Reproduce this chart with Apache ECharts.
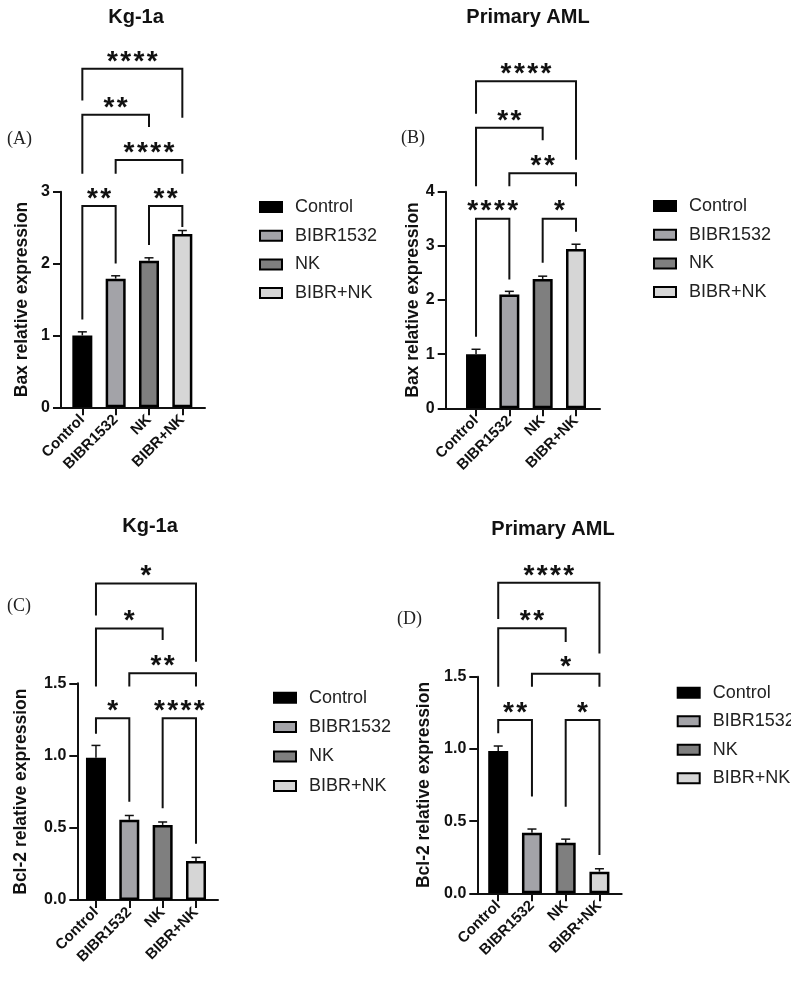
<!DOCTYPE html>
<html>
<head>
<meta charset="utf-8">
<script src="https://cdn.jsdelivr.net/npm/echarts@6/dist/echarts.min.js"></script>
<style>
  html, body { margin: 0; padding: 0; background: #fff; }
  #chart { width: 791px; height: 984px; }
</style>
</head>
<body>
<div id="chart"></div>
<script>
// groups and bar fills
const categories = ['Control', 'BIBR1532', 'NK', 'BIBR+NK']
const groupColors = ['#000000', '#a3a3a8', '#7f7f7f', '#d6d6d6']

// mean values and top of error bar (SEM) per panel
const baxKg1a = [1.0, 1.79, 2.04, 2.41]
const baxKg1aErr = [1.05, 1.83, 2.08, 2.46]
const baxAml = [1.0, 2.10, 2.39, 2.94]
const baxAmlErr = [1.09, 2.16, 2.44, 3.03]
const bclKg1a = [0.985, 0.555, 0.52, 0.27]
const bclKg1aErr = [1.07, 0.585, 0.54, 0.295]
const bclAml = [0.985, 0.42, 0.35, 0.15]
const bclAmlErr = [1.02, 0.445, 0.375, 0.17]

// significance brackets: [from group, to group, bar level, left leg end, right leg end]
const bracketsA = [[0, 1, 2.80, 1.22, 2.00], [2, 3, 2.80, 2.26, 2.51], [1, 3, 3.44, 3.25, 3.25], [0, 2, 4.07, 3.25, 3.90], [0, 3, 4.71, 4.27, 4.03]]
const starsA = ['**', '**', '****', '**', '****']
const bracketsB = [[0, 1, 3.50, 1.32, 2.38], [2, 3, 3.50, 2.69, 3.26], [1, 3, 4.34, 4.10, 4.10], [0, 2, 5.18, 4.10, 4.95], [0, 3, 6.04, 5.44, 4.59]]
const starsB = ['****', '*', '**', '**', '****']
const bracketsC = [[0, 1, 1.258, 1.15, 0.68], [2, 3, 1.258, 0.635, 0.39], [1, 3, 1.57, 1.477, 1.477], [0, 2, 1.88, 1.477, 1.80], [0, 3, 2.19, 1.97, 1.65]]
const starsC = ['*', '****', '**', '*', '*']
const bracketsD = [[0, 1, 1.20, 1.108, 0.67], [2, 3, 1.20, 0.60, 0.265], [1, 3, 1.52, 1.43, 1.43], [0, 2, 1.835, 1.43, 1.74], [0, 3, 2.15, 1.90, 1.66]]
const starsD = ['**', '*', '*', '**', '****']

const yTicksBax = [3, 4]
const FONT = '"Liberation Sans", Arial, sans-serif'

const panels = [
  { title: 'Kg-1a', tag: '(A)', yName: 'Bax relative expression', vals: baxKg1a, errs: baxKg1aErr, br: bracketsA, stars: starsA,
    grid: { left: 61, top: 191.7, width: 144, height: 215.6 }, xMin: -0.64, xMax: 3.68, yMax: yTicksBax[0], yStep: 1, nameGap: 30,
    titleX: 131, titleY: 2, tagX: 7, tagY: 140, legend: { left: 254, top: 193, gap: 10.7 } },
  { title: 'Primary AML', tag: '(B)', yName: 'Bax relative expression', vals: baxAml, errs: baxAmlErr, br: bracketsB, stars: starsB,
    grid: { left: 445.7, top: 191.7, width: 154.3, height: 216.6 }, xMin: -0.91, xMax: 3.72, yMax: yTicksBax[1], yStep: 1, nameGap: 24,
    titleX: 523, titleY: 2, tagX: 401, tagY: 139, legend: { left: 648, top: 192, gap: 10.7 } },
  { title: 'Kg-1a', tag: '(C)', yName: 'Bcl-2 relative expression', vals: bclKg1a, errs: bclKg1aErr, br: bracketsC, stars: starsC,
    grid: { left: 77.3, top: 683.3, width: 140.7, height: 216.7 }, xMin: -0.56, xMax: 3.66, yMax: 1.5, yStep: 0.5, nameGap: 47,
    titleX: 145, titleY: 511, tagX: 7, tagY: 607, legend: { left: 268, top: 683.7, gap: 11.4 } },
  { title: 'Primary AML', tag: '(D)', yName: 'Bcl-2 relative expression', vals: bclAml, errs: bclAmlErr, br: bracketsD, stars: starsD,
    grid: { left: 477.3, top: 676.7, width: 144.4, height: 216.6 }, xMin: -0.62, xMax: 3.66, yMax: 1.5, yStep: 0.5, nameGap: 44,
    titleX: 548, titleY: 514, tagX: 397, tagY: 620, legend: { left: 671.7, top: 678.7, gap: 10.5 } }
]

const chart = echarts.init(document.getElementById('chart'))

const grids = []
const xAxes = []
const yAxes = []
const series = []
const titles = []
const legends = []
const graphics = []

panels.forEach((p, k) => {
  grids.push(p.grid)
  xAxes.push({
    type: 'value', gridIndex: k, min: p.xMin, max: p.xMax,
    splitLine: { show: false },
    axisLine: { show: true, onZero: false, lineStyle: { color: '#111', width: 2 } },
    axisTick: { show: true, customValues: [0, 1, 2, 3], length: 8, lineStyle: { color: '#111', width: 2 } },
    axisLabel: {
      customValues: [0, 1, 2, 3], rotate: 45, margin: 10, color: '#111',
      fontFamily: FONT, fontWeight: 'bold', fontSize: 15,
      formatter: v => categories[Math.round(v)]
    }
  })
  yAxes.push({
    type: 'value', gridIndex: k, min: 0, max: p.yMax, interval: p.yStep,
    name: p.yName, nameLocation: 'middle', nameRotate: 90, nameGap: p.nameGap,
    nameTextStyle: { fontFamily: FONT, fontWeight: 'bold', fontSize: 17.5, color: '#111' },
    splitLine: { show: false },
    axisLine: { show: true, onZero: false, lineStyle: { color: '#111', width: 2 } },
    axisTick: { show: true, length: 8, lineStyle: { color: '#111', width: 2 } },
    axisLabel: {
      margin: 11, color: '#111', fontFamily: FONT, fontWeight: 'bold', fontSize: 16,
      formatter: v => (p.yStep < 1 ? v.toFixed(1) : String(v))
    }
  })

  // one bar series per group so the legend can list them
  categories.forEach((name, i) => {
    series.push({
      type: 'bar', name, xAxisIndex: k, yAxisIndex: k,
      barWidth: 20, barGap: '-100%',
      data: [[i, p.vals[i]]],
      itemStyle: { color: groupColors[i], borderColor: '#000', borderWidth: 2.5 },
      z: 2
    })
  })

  // error bars (upper only)
  series.push({
    type: 'custom', xAxisIndex: k, yAxisIndex: k, z: 3, silent: true,
    data: categories.map((c, i) => [i, p.vals[i], p.errs[i]]),
    encode: { x: 0, y: [1, 2] },
    renderItem: (params, api) => {
      const a = api.coord([api.value(0), api.value(1)])
      const b = api.coord([api.value(0), api.value(2)])
      return {
        type: 'group',
        children: [
          { type: 'line', shape: { x1: a[0], y1: a[1], x2: b[0], y2: b[1] }, style: { stroke: '#111', lineWidth: 1.5 } },
          { type: 'line', shape: { x1: b[0] - 4.5, y1: b[1], x2: b[0] + 4.5, y2: b[1] }, style: { stroke: '#111', lineWidth: 1.5 } }
        ]
      }
    }
  })

  // significance brackets
  series.push({
    type: 'custom', xAxisIndex: k, yAxisIndex: k, z: 4, silent: true, clip: false,
    data: p.br,
    encode: { x: [0, 1], y: [2, 3, 4] },
    renderItem: (params, api) => {
      const x1 = api.value(0), x2 = api.value(1), y = api.value(2)
      const pl = api.coord([x1, api.value(3)])
      const tl = api.coord([x1, y])
      const tr = api.coord([x2, y])
      const pr = api.coord([x2, api.value(4)])
      const s = p.stars[params.dataIndex]
      const cx = (tl[0] + tr[0]) / 2
      const kids = [{
        type: 'polyline',
        shape: { points: [pl, tl, tr, pr] },
        style: { stroke: '#111', lineWidth: 2, fill: null }
      }]
      for (let j = 0; j < s.length; j++) {
        kids.push({
          type: 'text',
          x: cx + (j - (s.length - 1) / 2) * 13.3,
          y: tl[1] - 7,
          style: { text: '*', fill: '#111', font: 'bold 28px ' + FONT, align: 'center', verticalAlign: 'middle' }
        })
      }
      return { type: 'group', children: kids }
    }
  })

  titles.push({
    text: p.title, left: p.titleX, top: p.titleY, textAlign: 'center',
    textStyle: { fontFamily: FONT, fontWeight: 'bold', fontSize: 20, color: '#111' }
  })

  legends.push({
    orient: 'vertical', left: p.legend.left, top: p.legend.top,
    itemWidth: 22, itemHeight: 10, itemGap: p.legend.gap, icon: 'rect',
    selectedMode: false, data: categories,
    itemStyle: { borderColor: '#000', borderWidth: 2 },
    textStyle: { fontFamily: FONT, fontSize: 18, lineHeight: 18, color: '#222', padding: [0, 0, 0, 8] }
  })

  graphics.push({
    type: 'text', left: p.tagX, top: p.tagY - 10,
    style: { text: p.tag, font: '18px "Liberation Serif", "Times New Roman", serif', fill: '#222' }
  })
})

chart.setOption({
  animation: false,
  backgroundColor: '#fff',
  title: titles,
  legend: legends,
  grid: grids,
  xAxis: xAxes,
  yAxis: yAxes,
  graphic: graphics,
  series
})
</script>
</body>
</html>
